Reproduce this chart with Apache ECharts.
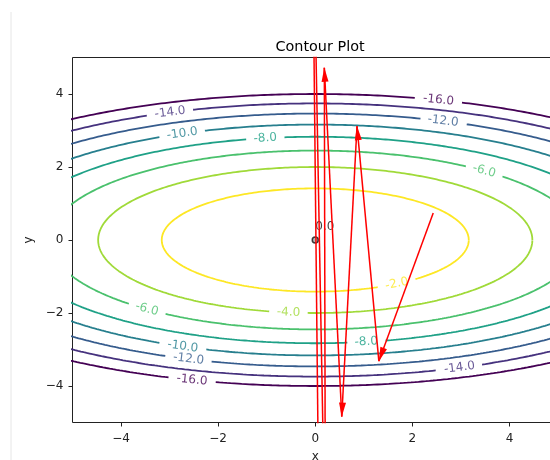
<!DOCTYPE html>
<html><head><meta charset="utf-8">
<script src="https://cdn.jsdelivr.net/npm/echarts@6/dist/echarts.min.js"></script>
<style>html,body{margin:0;padding:0;background:#fff}#c{width:550px;height:460px}</style>
</head><body><div id="c"></div>
<script>
// Field: f(x, y) = -(FIELD_A*x^2 + FIELD_B*y^2)
const FIELD_A = 0.2, FIELD_B = 1.0;
const xRange = [-5, 5];
const yRange = [-5, 5];
const levels = [-16, -14, -12, -10, -8, -6, -4, -2];
const tickValues = [-4, -2, 0, 2, 4];
// inline contour labels: level, x position, upper (1) / lower (-1) half
const labelLevel = [-14, -10, -8, -16, -12, -6, -6, -4, -10, -12, -16, -2, -8, -14];
const labelX = [-2.99, -2.74, -1.03, 2.54, 2.63, 3.48, -3.47, -0.55, -2.73, -2.61, -2.54, 1.68, 1.05, 2.97];
const labelSide = [1, 1, 1, 1, 1, 1, -1, -1, -1, -1, -1, -1, -1, -1];
// red arrow path
const pathX = [2.43, 1.31, 0.86, 0.546, 0.187, 0.21, -0.08, 0.14];
const pathY = [0.74, -3.32, 3.12, -4.84, 4.72, -9.0, 12.0, -16.0];
// origin marker and note
const markX = [0], markY = [0];
const noteX = [0], noteY = [0.2], noteText = ['0.0'];

const palette = ['#440154', '#46327e', '#365c8d', '#277f8e', '#1fa187', '#4ac16d', '#a0da39', '#fde725'];
const GRID = { left: 72.5, top: 57.5, width: 485.5, height: 365 };
const FONT = 'DejaVu Sans';
const sx = GRID.width / (xRange[1] - xRange[0]);
const sy = GRID.height / (yRange[1] - yRange[0]);
const toPx = (x, y) => [GRID.left + (x - xRange[0]) * sx, GRID.top + (yRange[1] - y) * sy];

const ctx = document.createElement('canvas').getContext('2d');
ctx.font = '12px "' + FONT + '"';

const labelItems = [];
const gaps = {};
labelLevel.forEach((L, i) => {
  const x0 = labelX[i];
  const y0 = labelSide[i] * Math.sqrt((Math.abs(L) - FIELD_A * x0 * x0) / FIELD_B);
  const slope = -FIELD_A * x0 / (FIELD_B * y0);
  const deg = Math.atan(slope * sy / sx) * 180 / Math.PI;
  const txt = L.toFixed(1);
  const w = ctx.measureText(txt).width;
  (gaps[L] = gaps[L] || []).push({ p: toPx(x0, y0), r: w / 2 + 7 });
  const ci = levels.indexOf(L);
  labelItems.push({ name: txt, value: [x0, y0], label: { rotate: deg, color: palette[ci] } });
});

function contour(L) {
  const ax = Math.sqrt(Math.abs(L) / FIELD_A), by = Math.sqrt(Math.abs(L) / FIELD_B);
  const N = 1440, out = [];
  const g = gaps[L] || [];
  for (let k = 0; k <= N; k++) {
    const t = 2 * Math.PI * k / N;
    const x = ax * Math.cos(t), y = by * Math.sin(t);
    const p = toPx(x, y);
    let hide = false;
    for (const q of g) { if (Math.hypot(p[0] - q.p[0], p[1] - q.p[1]) < q.r) { hide = true; break; } }
    out.push(hide ? [null, null] : [x, y]);
  }
  return out;
}

const series = [];
levels.forEach((L, i) => {
  series.push({ type: 'line', data: contour(L), showSymbol: false, symbol: 'none', connectNulls: false,
    lineStyle: { color: palette[i], width: 1.8 }, z: 2, silent: true, animation: false });
});
series.push({ type: 'scatter', data: labelItems, symbolSize: 0, z: 3, silent: true,
  label: { show: true, position: 'inside', formatter: '{b}', fontSize: 12, fontFamily: FONT } });
series.push({ type: 'scatter', data: markX.map((x, i) => [x, markY[i]]), symbol: 'circle', symbolSize: 6, z: 4, silent: true,
  itemStyle: { color: 'rgba(0,0,0,0.35)', borderColor: '#111', borderWidth: 1.5 } });
series.push({ type: 'scatter', data: noteX.map((x, i) => ({ name: noteText[i], value: [x, noteY[i]] })), symbolSize: 0, z: 4, silent: true,
  label: { show: true, position: [0, 0], align: 'left', verticalAlign: 'bottom', formatter: '{b}', fontSize: 12, fontFamily: FONT, color: '#111' } });
const segs = [];
for (let i = 0; i < pathX.length - 1; i++) segs.push({ coords: [[pathX[i], pathY[i]], [pathX[i + 1], pathY[i + 1]]] });
series.push({ type: 'lines', coordinateSystem: 'cartesian2d', data: segs, z: 5, silent: true,
  symbol: ['none', 'path://M5,0 M5,20 L10,40 L0,40 Z'], symbolSize: [[7, 28], [7, 28]],
  lineStyle: { color: '#ff0000', width: 1.5, opacity: 1, curveness: 0 } });

const fmt = v => (v < 0 ? '\u2212' + Math.abs(v) : String(v));
const axisCommon = {
  type: 'value', splitLine: { show: false }, axisLine: { show: false, onZero: false },
  axisTick: { show: true, customValues: tickValues, length: 4, lineStyle: { color: '#222', width: 1 } },
  axisLabel: { customValues: tickValues, formatter: fmt, color: '#222', fontSize: 12, fontFamily: FONT, margin: 9 },
  nameLocation: 'middle', nameTextStyle: { color: '#222', fontSize: 12, fontFamily: FONT }
};
const chart = echarts.init(document.getElementById('c'), null, { renderer: 'canvas' });
chart.setOption({
  animation: false,
  backgroundColor: '#fff',
  title: { text: 'Contour Plot', left: 315, top: 35, textAlign: 'center',
    textStyle: { fontSize: 14.4, fontWeight: 'normal', color: '#000', fontFamily: FONT } },
  grid: Object.assign({ show: true, borderColor: '#222', borderWidth: 1, backgroundColor: 'transparent',
    containLabel: false, outerBoundsMode: 'none' }, GRID),
  xAxis: Object.assign({}, axisCommon, { min: xRange[0], max: xRange[1], name: 'x', nameGap: 28,
    axisLabel: Object.assign({}, axisCommon.axisLabel, { margin: 10 }) }),
  yAxis: Object.assign({}, axisCommon, { min: yRange[0], max: yRange[1], name: 'y', nameGap: 34, nameRotate: 90 }),
  graphic: [{ type: 'line', silent: true, shape: { x1: 11, y1: 12, x2: 11, y2: 460 }, style: { stroke: '#e6e6e6', lineWidth: 1 } }],
  series: series
});
</script></body></html>
